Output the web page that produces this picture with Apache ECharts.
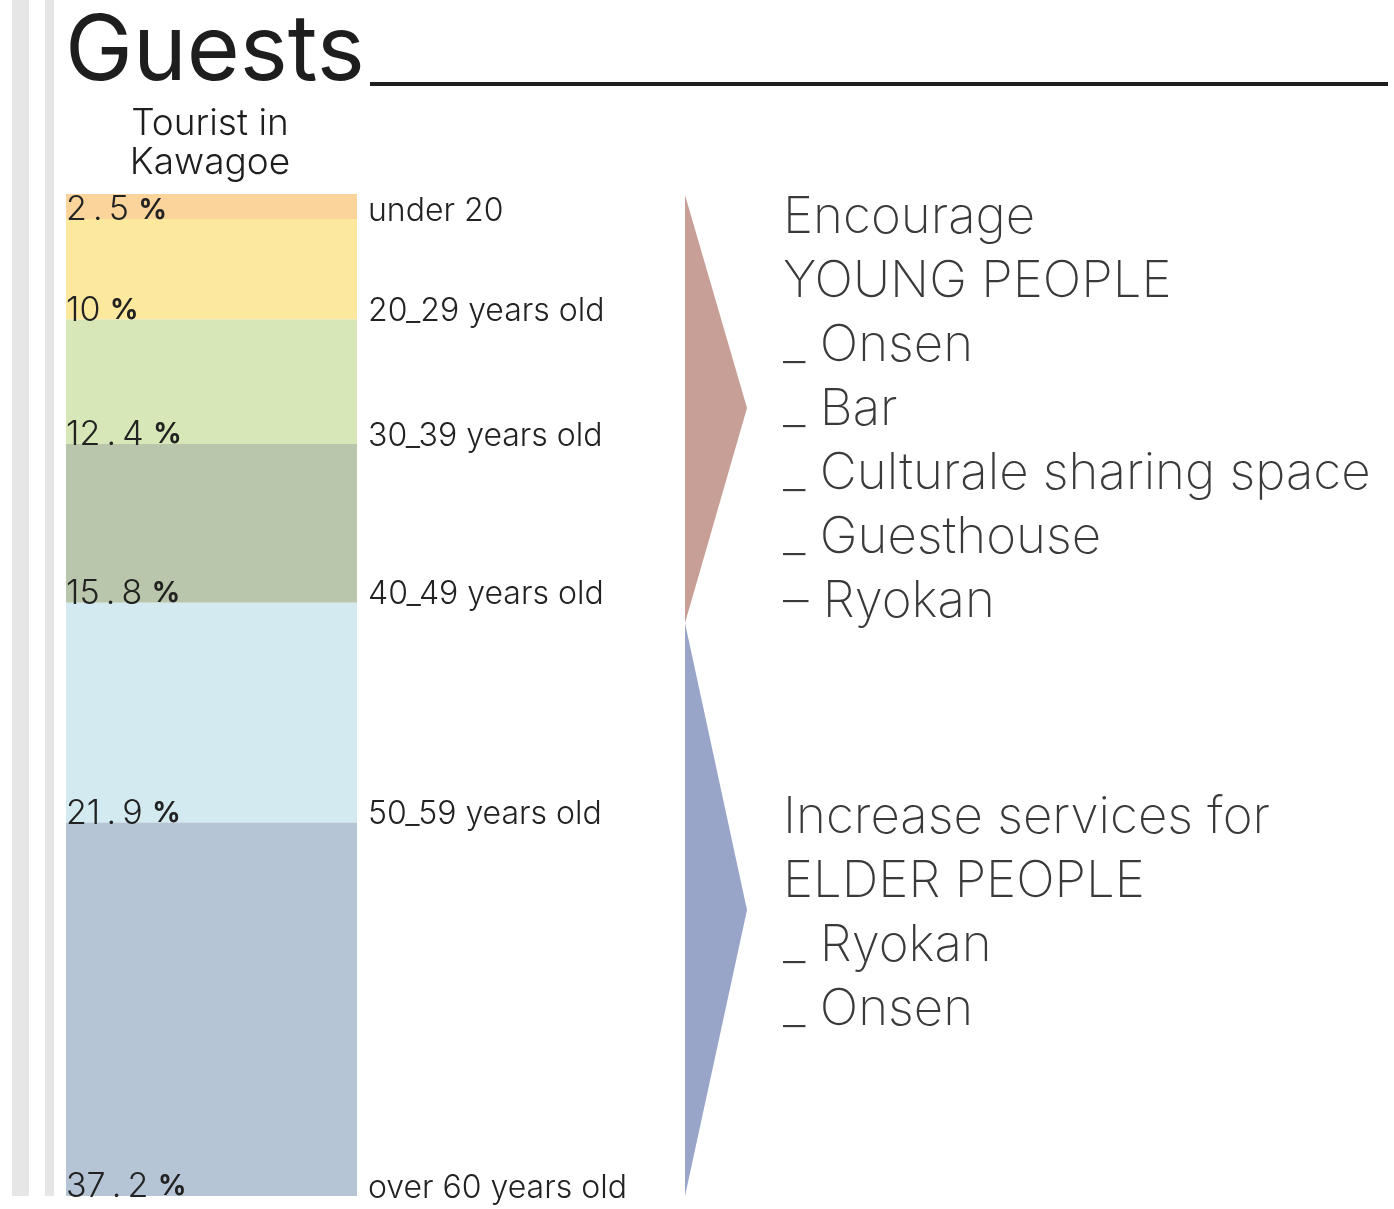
<!DOCTYPE html>
<html>
<head>
<meta charset="utf-8">
<script src="https://cdn.jsdelivr.net/npm/echarts@6/dist/echarts.min.js"></script>
<style>
  html, body { margin: 0; padding: 0; background: #fff; }
  #chart { width: 1394px; height: 1209px; }
</style>
</head>
<body>
<div id="chart"></div>
<script>
const ageGroups = ['under 20', '20_29 years old', '30_39 years old', '40_49 years old', '50_59 years old', 'over 60 years old'];
const shares = [2.5, 10, 12.4, 15.8, 21.9, 37.2];
const shareText = ['2\u2009.\u20095', '10', '12\u2009.\u20094', '15\u2009.\u20098', '21\u2009.\u20099', '37\u2009.\u20092'];
const colors = ['#fbd49c', '#fde99e', '#d8e7b7', '#b9c6ab', '#d3ebf0', '#b5c5d5'];
const columns = ['bar', 'label'];

const youngLines = ['Encourage', 'YOUNG PEOPLE', '_ Onsen', '_ Bar', '_ Culturale sharing space', '_ Guesthouse', '\u2013 Ryokan'];
const elderLines = ['Increase services for', 'ELDER PEOPLE', '_ Ryokan', '_ Onsen'];

document.addEventListener('DOMContentLoaded', function() {
    const chart = echarts.init(document.getElementById('chart'));
    const total = shares.reduce((a, b) => a + b, 0);

    const series = shares.map(function(v, i) {
        return {
            name: ageGroups[i],
            type: 'bar',
            stack: 'age',
            barWidth: '100%',
            barCategoryGap: 0,
            silent: true,
            data: [
                { value: v, itemStyle: { color: colors[i] } },
                { value: v, itemStyle: { color: 'rgba(0,0,0,0)' } }
            ],
            label: {
                show: true,
                position: 'insideBottomLeft',
                distance: 0,
                offset: [0, 8],
                formatter: function(p) {
                    if (p.dataIndex === 0) return '{n|' + shareText[i] + ' }{s|%}';
                    return '{a|' + ageGroups[i] + '}';
                },
                rich: {
                    n: { fontFamily: 'Inter', fontWeight: 300, fontSize: 34, color: '#222' },
                    s: { fontFamily: 'Inter', fontWeight: 'bold', fontSize: 28, color: '#222' },
                    a: { fontFamily: 'Inter', fontWeight: 300, fontSize: 32, color: '#222', padding: [0, 0, 0, 11] }
                }
            }
        };
    });

    const option = {
        backgroundColor: '#fff',
        animation: false,
        title: {
            text: 'Guests',
            left: 60,
            top: 2,
            textStyle: { fontFamily: 'Inter', fontWeight: 'normal', fontSize: 91, color: '#1e1e1e' }
        },
        grid: { left: 66, top: 194, width: 582, height: 1002 },
        xAxis: {
            type: 'category',
            data: columns,
            show: false
        },
        yAxis: {
            type: 'value',
            inverse: true,
            min: 0,
            max: total,
            show: false
        },
        series: series,
        graphic: [
            { type: 'rect', shape: { x: 12, y: 0, width: 17, height: 1196 }, style: { fill: '#e6e6e6' }, silent: true },
            { type: 'rect', shape: { x: 45, y: 0, width: 9, height: 1196 }, style: { fill: '#e6e6e6' }, silent: true },
            { type: 'line', shape: { x1: 370, y1: 84, x2: 1388, y2: 84 }, style: { stroke: '#1e1e1e', lineWidth: 4 }, silent: true },
            {
                type: 'text', x: 210, y: 104, silent: true,
                style: { text: 'Tourist in\nKawagoe', align: 'center', font: '300 37px Inter', lineHeight: 39, fill: '#1e1e1e' }
            },
            { type: 'polygon', shape: { points: [[685, 195], [747, 408], [685, 623]] }, style: { fill: '#c89f96' }, silent: true },
            { type: 'polygon', shape: { points: [[685, 623], [747, 910], [685, 1196]] }, style: { fill: '#98a5c8' }, silent: true },
            {
                type: 'text', left: 783, top: 186, silent: true,
                style: { text: youngLines.join('\n'), font: '200 51px Inter', lineHeight: 64, fill: '#3a3a3a' }
            },
            {
                type: 'text', left: 783, top: 786, silent: true,
                style: { text: elderLines.join('\n'), font: '200 51px Inter', lineHeight: 64, fill: '#3a3a3a' }
            }
        ]
    };

    chart.setOption(option);
});
</script>
</body>
</html>
